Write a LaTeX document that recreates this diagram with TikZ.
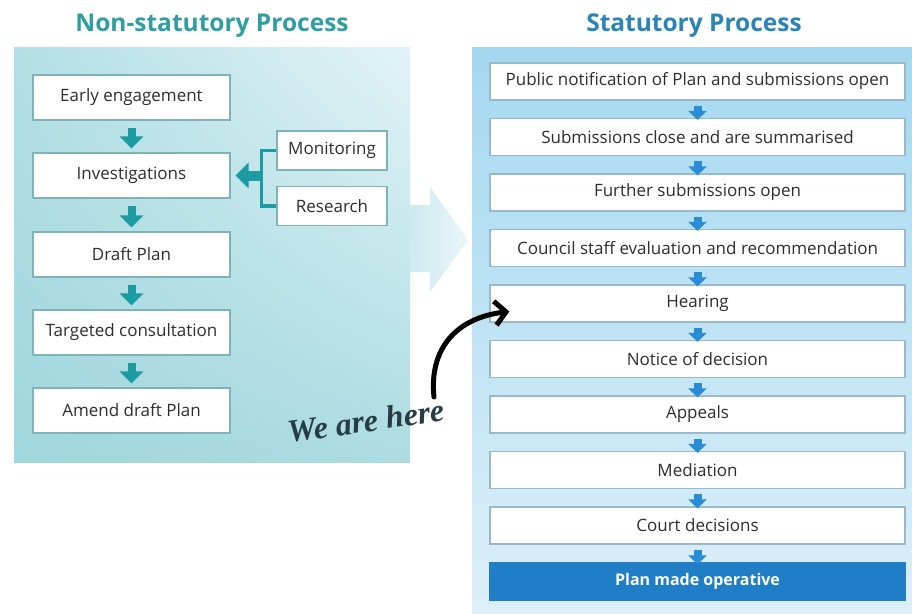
\documentclass[tikz,border=0pt]{standalone}
\usepackage{fontspec}
\setsansfont{Open Sans}
\newfontfamily\handfont{Liberation Serif}
\usepackage{tikz}
\usetikzlibrary{arrows.meta, positioning, shadings}

\definecolor{tealarr}{HTML}{1C9BA2}
\definecolor{bluearr}{HTML}{2B8CD6}
\definecolor{tealtitle}{HTML}{2F9EA3}
\definecolor{bluetitle}{HTML}{2A84B8}
\definecolor{opblue}{HTML}{1F7EC5}
\definecolor{txtgrey}{HTML}{2E2E2E}
\definecolor{ledge}{HTML}{7DB3B9}
\definecolor{redge}{HTML}{97B9CA}
\definecolor{handink}{HTML}{263C46}
\definecolor{lpanUL}{HTML}{B2DFE5}
\definecolor{lpanUR}{HTML}{E2F3F6}
\definecolor{lpanLL}{HTML}{A0D6DD}
\definecolor{lpanLR}{HTML}{ACDCE2}
\definecolor{parrL}{HTML}{CDEAF0}
\definecolor{parrR}{HTML}{EAF6F8}
\definecolor{rpanT}{HTML}{A4D8F0}
\definecolor{rpanB}{HTML}{DCEFF9}

\tikzset{
  lbox/.style={draw=ledge, fill=white, line width=1.2pt, minimum width=197pt,
    minimum height=45pt, text=txtgrey, font=\sffamily\fontsize{17}{20}\selectfont},
  sidebox/.style={lbox, minimum width=110pt, minimum height=39pt},
  rbox/.style={draw=redge, fill=white, line width=1.2pt, minimum width=415pt,
    minimum height=37pt, text=txtgrey, font=\sffamily\fontsize{17}{20}\selectfont},
  tarr/.style={-{Triangle[length=12pt,width=23pt]}, line width=8pt, draw=tealarr,
    shorten <=7pt, shorten >=4pt},
  barr/.style={-{Triangle[length=9pt,width=18pt]}, line width=8pt, draw=bluearr,
    shorten <=5pt, shorten >=-2pt},
  title/.style={font=\sffamily\bfseries\fontsize{24.5}{28}\selectfont},
}

\begin{document}
\begin{tikzpicture}[x=1pt, y=-1pt]
  \useasboundingbox (0,0) rectangle (912,613);

  % 背景パネル
  \shade[upper left=lpanUL, upper right=lpanUR, lower left=lpanLL, lower right=lpanLR]
    (14,47) rectangle (410,462);
  \shade[left color=parrL, right color=parrR]
    (410,205) -- (430,205) -- (430,187) -- (468,240) -- (430,292) -- (430,272) -- (410,272) -- cycle;
  \shade[top color=rpanT, bottom color=rpanB] (472,47) rectangle (912,613);

  \node[title, text=tealtitle] (ntitle) at (212,26) {Non-statutory Process};
  \node[title, text=bluetitle] (stitle) at (694,26) {Statutory Process};

  % 非法定プロセス
  \node[lbox] (early) at (131.5,97.5) {Early engagement};
  \node[lbox] (inv) at (131.5,175.5) {Investigations};
  \node[lbox] (draft) at (131.5,254.5) {Draft Plan};
  \node[lbox] (target) at (131.5,332.5) {Targeted consultation};
  \node[lbox] (amend) at (131.5,410.5) {Amend draft Plan};
  \node[sidebox] (mon) at (332,150.5) {Monitoring};
  \node[sidebox] (res) at (332,206) {Research};

  \draw[tarr] (early) -- (inv);
  \draw[tarr] (inv) -- (draft);
  \draw[tarr] (draft) -- (target);
  \draw[tarr] (target) -- (amend);

  \coordinate (brk) at (262,175.5);
  \draw[tealarr, line width=3.5pt] (mon.west) -- ++(-15,0) |- (res.west);
  \draw[-{Triangle[length=13pt,width=25pt]}, line width=10pt, tealarr, shorten >=5pt] (brk) -- (inv);

  % 法定プロセス
  \node[rbox] (pub) at (697.5,81.5) {Public notification of Plan and submissions open};
  \node[rbox] (close) at (697.5,137) {Submissions close and are summarised};
  \node[rbox] (further) at (697.5,192.5) {Further submissions open};
  \node[rbox] (eval) at (697.5,248) {Council staff evaluation and recommendation};
  \node[rbox] (hear) at (697.5,303.5) {Hearing};
  \node[rbox] (notice) at (697.5,359) {Notice of decision};
  \node[rbox] (appeal) at (697.5,414.5) {Appeals};
  \node[rbox] (med) at (697.5,470) {Mediation};
  \node[rbox] (court) at (697.5,525.5) {Court decisions};
  \node[rbox, draw=opblue, fill=opblue, text=white, font=\sffamily\bfseries\fontsize{16}{19}\selectfont]
    (oper) at (697.5,581.5) {Plan made operative};

  \draw[barr] (pub) -- (close);
  \draw[barr] (close) -- (further);
  \draw[barr] (further) -- (eval);
  \draw[barr] (eval) -- (hear);
  \draw[barr] (hear) -- (notice);
  \draw[barr] (notice) -- (appeal);
  \draw[barr] (appeal) -- (med);
  \draw[barr] (med) -- (court);
  \draw[barr] (court) -- (oper);

  % 現在地
  \node[rotate=8, text=handink, font=\handfont\bfseries\itshape\fontsize{32}{36}\selectfont] (here) at (366,421) {We are here};
  \coordinate (hstart) at (434,397);
  \draw[line width=5pt, line cap=round, line join=round, -{Straight Barb[length=11pt,width=24pt]}]
    (hstart) .. controls (429,350) and (455,318) .. ([xshift=20pt,yshift=-8pt]hear.west);
\end{tikzpicture}
\end{document}
